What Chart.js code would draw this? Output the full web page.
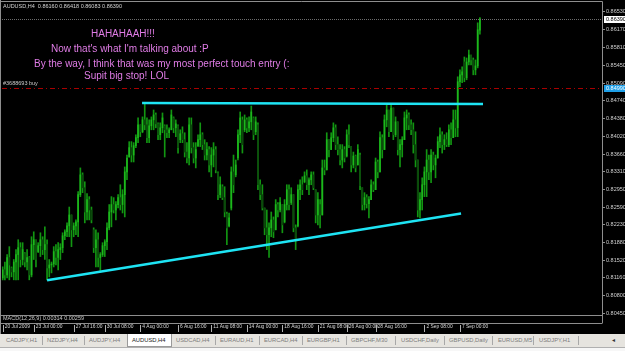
<!DOCTYPE html>
<html>
<head>
<meta charset="utf-8">
<script src="https://cdn.jsdelivr.net/npm/chart.js@4.4.1/dist/chart.umd.min.js"></script>
<style>
body{margin:0;width:625px;height:351px;overflow:hidden;background:#e6e4df;position:relative;font-family:"Liberation Sans",Arial,sans-serif}
#wrap{position:absolute;left:0;top:0;width:625px;height:334px;background:#000}
canvas{display:block}
.t{position:absolute;white-space:nowrap;line-height:1}
.note{color:#e07ce6;font-size:10px;line-height:10px}
.sm{font-size:5.5px;color:#d4d4d4}
#tabs{position:absolute;left:0;top:334px;width:625px;height:13px;background:#e6e4df}
.tab{position:absolute;top:3px;font-size:5.8px;color:#7c7c7c;white-space:nowrap}
.sep{position:absolute;top:2px;width:1px;height:9px;background:#a8a8a8}
#sel{position:absolute;left:127px;top:0;width:43px;height:12px;background:#fff;border:1px solid #9a9a9a;border-top:none}
#foot{position:absolute;left:0;top:347px;width:625px;height:4px;background:#f7f7f7;border-top:1px solid #b0b0b0}
</style>
</head>
<body>
<div id="wrap"><canvas id="myChart" width="625" height="334"></canvas></div>

<div class="t sm" style="left:3px;top:4px">AUDUSD,H4&nbsp; 0.86160 0.86418 0.86083 0.86390</div>
<div class="t note" style="left:91px;top:29px">HAHAHAAH!!!</div>
<div class="t note" style="left:51px;top:44px">Now that's what I'm talking about :P</div>
<div class="t note" style="left:34px;top:59px">By the way, I think that was my most perfect touch entry (:</div>
<div class="t note" style="left:84px;top:71px">Supit big stop! LOL</div>
<div class="t sm" style="left:3px;top:81px;color:#c8c8c8">#3688693 buy</div>
<div class="t sm" style="left:3px;top:316px;color:#c8c8c8">MACD(12,26,9) 0.00314 0.00259</div>

<div id="tabs">
  <div id="sel"></div>
  <span class="tab" style="left:6px">CADJPY,H1</span><span class="sep" style="left:42px"></span>
  <span class="tab" style="left:47px">NZDJPY,H4</span><span class="sep" style="left:84px"></span>
  <span class="tab" style="left:89px">AUDJPY,H4</span>
  <span class="tab" style="left:132px;color:#1a1a1a">AUDUSD,H4</span>
  <span class="tab" style="left:176px">USDCAD,H4</span><span class="sep" style="left:215px"></span>
  <span class="tab" style="left:220px">EURAUD,H1</span><span class="sep" style="left:259px"></span>
  <span class="tab" style="left:264px">EURCAD,H4</span><span class="sep" style="left:302px"></span>
  <span class="tab" style="left:307px">EURGBP,H1</span><span class="sep" style="left:346px"></span>
  <span class="tab" style="left:351px">GBPCHF,M30</span><span class="sep" style="left:395px"></span>
  <span class="tab" style="left:401px">USDCHF,Daily</span><span class="sep" style="left:444px"></span>
  <span class="tab" style="left:449px">GBPUSD,Daily</span><span class="sep" style="left:492px"></span>
  <span class="tab" style="left:498px">EURUSD,M5</span><span class="sep" style="left:533px"></span>
  <span class="tab" style="left:539px">USDJPY,H1</span><span class="sep" style="left:578px"></span>
  <span class="tab" style="left:612px;color:#333">&#9666;</span>
</div>
<div id="foot"></div>

<script>
// AUDUSD H4 candles, 20 Jul - 8 Sep 2009
var opens = [
0.8116,0.8132,0.8122,0.8157,0.8136,0.8128,0.8148,0.8163,0.8177,0.8153,
0.8165,0.8148,0.8157,0.8122,0.8183,0.8193,0.8169,0.8181,0.8193,0.8173,
0.8183,0.8136,0.8142,0.8144,0.8169,0.8157,0.8173,0.8177,0.8201,0.8209,
0.8221,0.8243,0.8213,0.8221,0.8229,0.8284,0.8324,0.8298,0.8249,0.8274,
0.8253,0.8213,0.8177,0.8193,0.8157,0.8163,0.8181,0.8189,0.8217,0.8249,
0.8264,0.8253,0.8264,0.8278,0.8264,0.8284,0.8330,0.8360,0.8379,0.8364,
0.8383,0.8399,0.8425,0.8411,0.8435,0.8425,0.8399,0.8423,0.8435,0.8445,
0.8427,0.8405,0.8419,0.8423,0.8415,0.8409,0.8415,0.8439,0.8419,0.8423,
0.8395,0.8407,0.8395,0.8370,0.8358,0.8425,0.8379,0.8358,0.8383,0.8395,
0.8405,0.8385,0.8364,0.8375,0.8344,0.8364,0.8375,0.8328,0.8284,0.8300,
0.8278,0.8245,0.8221,0.8257,0.8330,0.8324,0.8358,0.8405,0.8435,0.8415,
0.8435,0.8419,0.8431,0.8439,0.8411,0.8425,0.8304,0.8284,0.8257,0.8217,
0.8203,0.8217,0.8233,0.8213,0.8264,0.8253,0.8264,0.8229,0.8264,0.8294,
0.8268,0.8284,0.8217,0.8221,0.8294,0.8304,0.8310,0.8322,0.8304,0.8314,
0.8324,0.8294,0.8243,0.8264,0.8243,0.8338,0.8334,0.8395,0.8375,0.8399,
0.8419,0.8385,0.8375,0.8354,0.8375,0.8362,0.8405,0.8381,0.8344,0.8362,
0.8344,0.8364,0.8298,0.8264,0.8278,0.8266,0.8274,0.8304,0.8294,0.8350,
0.8330,0.8399,0.8375,0.8435,0.8455,0.8411,0.8459,0.8405,0.8431,0.8375,
0.8385,0.8395,0.8439,0.8445,0.8425,0.8415,0.8385,0.8354,0.8253,0.8274,
0.8304,0.8330,0.8354,0.8330,0.8364,0.8344,0.8358,0.8391,0.8405,0.8385,
0.8395,0.8385,0.8415,0.8399,0.8435,0.8419,0.8512,0.8526,0.8552,0.8520,
0.8552,0.8566,0.8556,0.8536,0.8544,0.86160];
var highs = [
0.8138,0.8148,0.8163,0.8179,0.8138,0.8153,0.8173,0.8193,0.8187,0.8187,
0.8167,0.8173,0.8159,0.8199,0.8209,0.8193,0.8187,0.8207,0.8199,0.8219,
0.8193,0.8153,0.8148,0.8179,0.8183,0.8187,0.8185,0.8207,0.8213,0.8227,
0.8259,0.8243,0.8227,0.8233,0.8290,0.8338,0.8328,0.8310,0.8286,0.8280,
0.8259,0.8217,0.8213,0.8207,0.8167,0.8187,0.8193,0.8227,0.8264,0.8280,
0.8278,0.8270,0.8284,0.8304,0.8294,0.8340,0.8364,0.8391,0.8391,0.8389,
0.8405,0.8439,0.8425,0.8441,0.8469,0.8439,0.8435,0.8441,0.8455,0.8449,
0.8429,0.8429,0.8449,0.8425,0.8425,0.8419,0.8455,0.8441,0.8435,0.8425,
0.8415,0.8421,0.8409,0.8389,0.8439,0.8439,0.8389,0.8389,0.8405,0.8429,
0.8409,0.8395,0.8389,0.8381,0.8379,0.8389,0.8381,0.8330,0.8320,0.8304,
0.8300,0.8249,0.8247,0.8340,0.8364,0.8354,0.8415,0.8451,0.8441,0.8445,
0.8439,0.8441,0.8463,0.8441,0.8441,0.8429,0.8314,0.8304,0.8257,0.8253,
0.8227,0.8249,0.8239,0.8274,0.8268,0.8278,0.8264,0.8274,0.8304,0.8304,
0.8298,0.8284,0.8223,0.8304,0.8314,0.8320,0.8330,0.8334,0.8318,0.8330,
0.8330,0.8294,0.8288,0.8274,0.8354,0.8354,0.8409,0.8395,0.8409,0.8429,
0.8425,0.8401,0.8385,0.8385,0.8381,0.8415,0.8425,0.8381,0.8370,0.8364,
0.8385,0.8368,0.8298,0.8288,0.8284,0.8280,0.8314,0.8310,0.8358,0.8354,
0.8411,0.8405,0.8445,0.8465,0.8455,0.8467,0.8459,0.8441,0.8431,0.8395,
0.8401,0.8451,0.8455,0.8449,0.8435,0.8429,0.8411,0.8354,0.8288,0.8318,
0.8340,0.8375,0.8364,0.8375,0.8370,0.8364,0.8401,0.8419,0.8411,0.8405,
0.8409,0.8425,0.8429,0.8455,0.8455,0.8522,0.8536,0.8542,0.8562,0.8560,
0.8576,0.8566,0.8560,0.8556,0.8631,0.86418];
var lows = [
0.8112,0.8112,0.8116,0.8112,0.8118,0.8112,0.8112,0.8112,0.8138,0.8142,
0.8138,0.8132,0.8112,0.8118,0.8153,0.8138,0.8167,0.8159,0.8163,0.8153,
0.8112,0.8118,0.8126,0.8138,0.8142,0.8132,0.8153,0.8167,0.8193,0.8199,
0.8199,0.8179,0.8199,0.8203,0.8199,0.8280,0.8288,0.8227,0.8233,0.8233,
0.8227,0.8167,0.8138,0.8138,0.8128,0.8159,0.8159,0.8173,0.8213,0.8219,
0.8247,0.8233,0.8257,0.8253,0.8247,0.8239,0.8314,0.8360,0.8350,0.8350,
0.8379,0.8389,0.8401,0.8409,0.8415,0.8389,0.8389,0.8415,0.8415,0.8419,
0.8395,0.8395,0.8409,0.8360,0.8399,0.8399,0.8415,0.8409,0.8401,0.8368,
0.8389,0.8389,0.8360,0.8348,0.8344,0.8368,0.8348,0.8338,0.8381,0.8381,
0.8375,0.8354,0.8354,0.8330,0.8320,0.8340,0.8328,0.8274,0.8278,0.8274,
0.8239,0.8183,0.8219,0.8253,0.8288,0.8320,0.8354,0.8389,0.8368,0.8411,
0.8409,0.8411,0.8415,0.8395,0.8405,0.8294,0.8274,0.8253,0.8203,0.8173,
0.8157,0.8199,0.8197,0.8213,0.8239,0.8249,0.8207,0.8227,0.8253,0.8253,
0.8264,0.8209,0.8173,0.8219,0.8274,0.8284,0.8308,0.8294,0.8284,0.8304,
0.8294,0.8227,0.8223,0.8217,0.8243,0.8324,0.8334,0.8360,0.8375,0.8391,
0.8375,0.8364,0.8344,0.8338,0.8350,0.8360,0.8379,0.8330,0.8338,0.8330,
0.8344,0.8294,0.8253,0.8253,0.8257,0.8237,0.8274,0.8290,0.8294,0.8318,
0.8330,0.8358,0.8375,0.8421,0.8401,0.8411,0.8395,0.8401,0.8364,0.8340,
0.8360,0.8395,0.8415,0.8415,0.8405,0.8368,0.8340,0.8239,0.8237,0.8253,
0.8280,0.8280,0.8314,0.8308,0.8334,0.8318,0.8358,0.8379,0.8368,0.8375,
0.8381,0.8381,0.8385,0.8399,0.8401,0.8401,0.8502,0.8510,0.8512,0.8516,
0.8546,0.8546,0.8526,0.8526,0.8540,0.86083];
var closes = [
0.8132,0.8122,0.8157,0.8142,0.8128,0.8148,0.8163,0.8177,0.8153,0.8173,
0.8148,0.8157,0.8122,0.8183,0.8193,0.8153,0.8181,0.8193,0.8173,0.8183,
0.8136,0.8142,0.8144,0.8169,0.8157,0.8173,0.8177,0.8201,0.8209,0.8221,
0.8243,0.8213,0.8221,0.8229,0.8284,0.8324,0.8298,0.8249,0.8274,0.8253,
0.8233,0.8177,0.8193,0.8157,0.8163,0.8181,0.8189,0.8217,0.8249,0.8264,
0.8253,0.8264,0.8278,0.8264,0.8284,0.8330,0.8358,0.8379,0.8364,0.8383,
0.8399,0.8425,0.8411,0.8435,0.8425,0.8399,0.8423,0.8435,0.8445,0.8427,
0.8405,0.8419,0.8439,0.8415,0.8409,0.8415,0.8445,0.8419,0.8427,0.8379,
0.8407,0.8395,0.8370,0.8358,0.8425,0.8379,0.8358,0.8375,0.8395,0.8405,
0.8385,0.8364,0.8375,0.8344,0.8364,0.8375,0.8334,0.8284,0.8304,0.8278,
0.8249,0.8217,0.8237,0.8330,0.8304,0.8344,0.8405,0.8439,0.8385,0.8435,
0.8419,0.8431,0.8451,0.8405,0.8431,0.8304,0.8284,0.8257,0.8217,0.8203,
0.8217,0.8233,0.8209,0.8264,0.8253,0.8268,0.8223,0.8264,0.8294,0.8264,
0.8284,0.8217,0.8193,0.8294,0.8304,0.8294,0.8322,0.8304,0.8314,0.8324,
0.8298,0.8243,0.8274,0.8243,0.8338,0.8334,0.8395,0.8375,0.8399,0.8419,
0.8385,0.8375,0.8354,0.8375,0.8358,0.8405,0.8385,0.8344,0.8362,0.8338,
0.8375,0.8302,0.8264,0.8278,0.8266,0.8274,0.8304,0.8294,0.8350,0.8330,
0.8399,0.8375,0.8435,0.8455,0.8411,0.8459,0.8405,0.8431,0.8375,0.8385,
0.8395,0.8439,0.8445,0.8425,0.8415,0.8385,0.8354,0.8253,0.8274,0.8304,
0.8330,0.8354,0.8330,0.8364,0.8344,0.8358,0.8391,0.8405,0.8385,0.8395,
0.8385,0.8415,0.8399,0.8435,0.8419,0.8512,0.8526,0.8532,0.8520,0.8552,
0.8566,0.8556,0.8536,0.8544,0.8617,0.86390];

// time axis: bar index of each label, and its text
var timeIdx = [0, 14, 32, 46, 62, 79, 94, 110, 126, 142, 155, 168, 190, 206];
var timeText = ['20 Jul 2009', '23 Jul 00:00', '27 Jul 16:00', '30 Jul 08:00', '4 Aug 00:00',
  '6 Aug 16:00', '11 Aug 08:00', '14 Aug 00:00', '18 Aug 16:00', '21 Aug 08:00',
  '26 Aug 00:00', '28 Aug 16:00', '2 Sep 08:00', '7 Sep 00:00'];
var priceTicks = [0.86530, 0.86170, 0.85810, 0.85450, 0.85090, 0.84740, 0.84380, 0.84020, 0.83660,
  0.83310, 0.82950, 0.82590, 0.82230, 0.81880, 0.81520, 0.81160, 0.80800, 0.80450];

// drawn trend lines [barIndex, price]
var resistance = [[62.8, 0.8469], [216.4, 0.8467]];
var support = [[20, 0.8111], [206.5, 0.8246]];
var orderPrice = 0.84990;
var bidPrice = 0.86390;

window.onload = function () {
    var myCanvas = document.getElementById('myChart');
    var ctx = myCanvas.getContext('2d');

    var wicks = [], bodies = [], bodyColors = [];
    for (var i = 0; i < opens.length; i++) {
        wicks.push({x: i, y: [lows[i], highs[i]]});
        bodies.push({x: i, y: [opens[i], closes[i]]});
        bodyColors.push(closes[i] >= opens[i] ? '#1cb81c' : '#0c4a0c');
    }

    var mt4Frame = {
        id: 'mt4Frame',
        beforeDraw: function (chart) {
            var c = chart.ctx;
            c.save();
            c.fillStyle = '#000';
            c.fillRect(0, 0, chart.width, chart.height);
            c.restore();
        },
        afterDraw: function (chart) {
            var c = chart.ctx, a = chart.chartArea, ys = chart.scales.y, xs = chart.scales.x;
            c.save();
            c.strokeStyle = '#8e8e8e';
            c.lineWidth = 1;
            c.beginPath();
            c.moveTo(0, 1.5); c.lineTo(a.right + 0.5, 1.5);
            c.moveTo(0.5, 0); c.lineTo(0.5, 334);
            c.moveTo(a.right + 0.5, 1.5); c.lineTo(a.right + 0.5, 323.5);
            c.moveTo(0, 315.5); c.lineTo(a.right, 315.5);
            c.moveTo(0, 323.5); c.lineTo(a.right, 323.5);
            c.stroke();
            // time tick marks
            c.strokeStyle = '#b0b0b0';
            c.beginPath();
            timeIdx.forEach(function (v) {
                var px = Math.round(xs.getPixelForValue(v)) + 0.5;
                c.moveTo(px, 325); c.lineTo(px, 332);
            });
            c.stroke();
            // order line
            var oy = Math.round(ys.getPixelForValue(orderPrice)) + 0.5;
            c.strokeStyle = '#a80000';
            c.setLineDash([5, 3, 1, 3]);
            c.beginPath(); c.moveTo(a.left, oy); c.lineTo(a.right, oy); c.stroke();
            // bid line
            var by = Math.round(ys.getPixelForValue(bidPrice)) + 0.5;
            c.strokeStyle = '#6c6c6c';
            c.setLineDash([1, 1]);
            c.beginPath(); c.moveTo(a.left, by); c.lineTo(a.right, by); c.stroke();
            c.setLineDash([]);
            // price labels
            c.font = '5.5px "Liberation Sans"';
            c.textBaseline = 'middle';
            c.fillStyle = '#ffffff';
            c.fillRect(a.right + 2, by - 3.5, 21, 7);
            c.fillStyle = '#000';
            c.fillText(bidPrice.toFixed(5), a.right + 4, by);
            c.fillStyle = '#1e9fe8';
            c.fillRect(a.right + 2, oy - 3.5, 21, 7);
            c.fillStyle = '#ffffff';
            c.fillText(orderPrice.toFixed(5), a.right + 4, oy);
            c.restore();
        }
    };

    new Chart(ctx, {
        type: 'bar',
        data: {
            datasets: [{
                label: 'bodies',
                data: bodies,
                backgroundColor: bodyColors,
                barThickness: 1,
                grouped: false,
                order: 2
            },
            {
                label: 'wicks',
                data: wicks,
                backgroundColor: '#129612',
                barThickness: 1,
                grouped: false,
                order: 3
            },
            {
                type: 'line',
                label: 'resistance',
                data: resistance.map(function (p) { return {x: p[0], y: p[1]}; }),
                borderColor: '#1ee4f4',
                borderWidth: 2.5,
                pointRadius: 0,
                fill: false,
                order: 1
            },
            {
                type: 'line',
                label: 'support',
                data: support.map(function (p) { return {x: p[0], y: p[1]}; }),
                borderColor: '#1ee4f4',
                borderWidth: 2.5,
                pointRadius: 0,
                fill: false,
                order: 1
            }]
        },
        options: {
            responsive: false,
            animation: false,
            devicePixelRatio: 1,
            layout: {padding: {top: 3, left: 2, right: 0, bottom: 0}},
            plugins: {legend: {display: false}, tooltip: {enabled: false}},
            scales: {
                x: {
                    type: 'linear',
                    offset: false,
                    min: -0.3,
                    max: 270,
                    grid: {display: false, drawTicks: false, offset: false},
                    border: {display: false},
                    afterBuildTicks: function (s) {
                        s.ticks = timeIdx.map(function (v) { return {value: v}; });
                    },
                    afterFit: function (s) {
                        s.height = 20;
                        s.paddingLeft = 0;
                        s.paddingRight = 0;
                    },
                    ticks: {
                        autoSkip: false,
                        maxRotation: 0,
                        align: 'start',
                        labelOffset: 2,
                        padding: 10,
                        color: '#d8d8d8',
                        font: {family: 'Liberation Sans', size: 4.9},
                        callback: function (v) { return timeText[timeIdx.indexOf(v)]; }
                    }
                },
                y: {
                    position: 'right',
                    min: 0.8043,
                    max: 0.8671,
                    grid: {drawOnChartArea: false, color: '#8e8e8e', tickLength: 3},
                    border: {display: false},
                    afterBuildTicks: function (s) {
                        s.ticks = priceTicks.map(function (v) { return {value: v}; });
                    },
                    afterFit: function (s) {
                        s.width = 23;
                        s.paddingTop = 0;
                        s.paddingBottom = 0;
                    },
                    ticks: {
                        padding: 1,
                        color: '#d0d0d0',
                        font: {family: 'Liberation Sans', size: 5.5},
                        callback: function (v) { return v.toFixed(5); }
                    }
                }
            }
        },
        plugins: [mt4Frame]
    });
}
</script>
</body>
</html>
